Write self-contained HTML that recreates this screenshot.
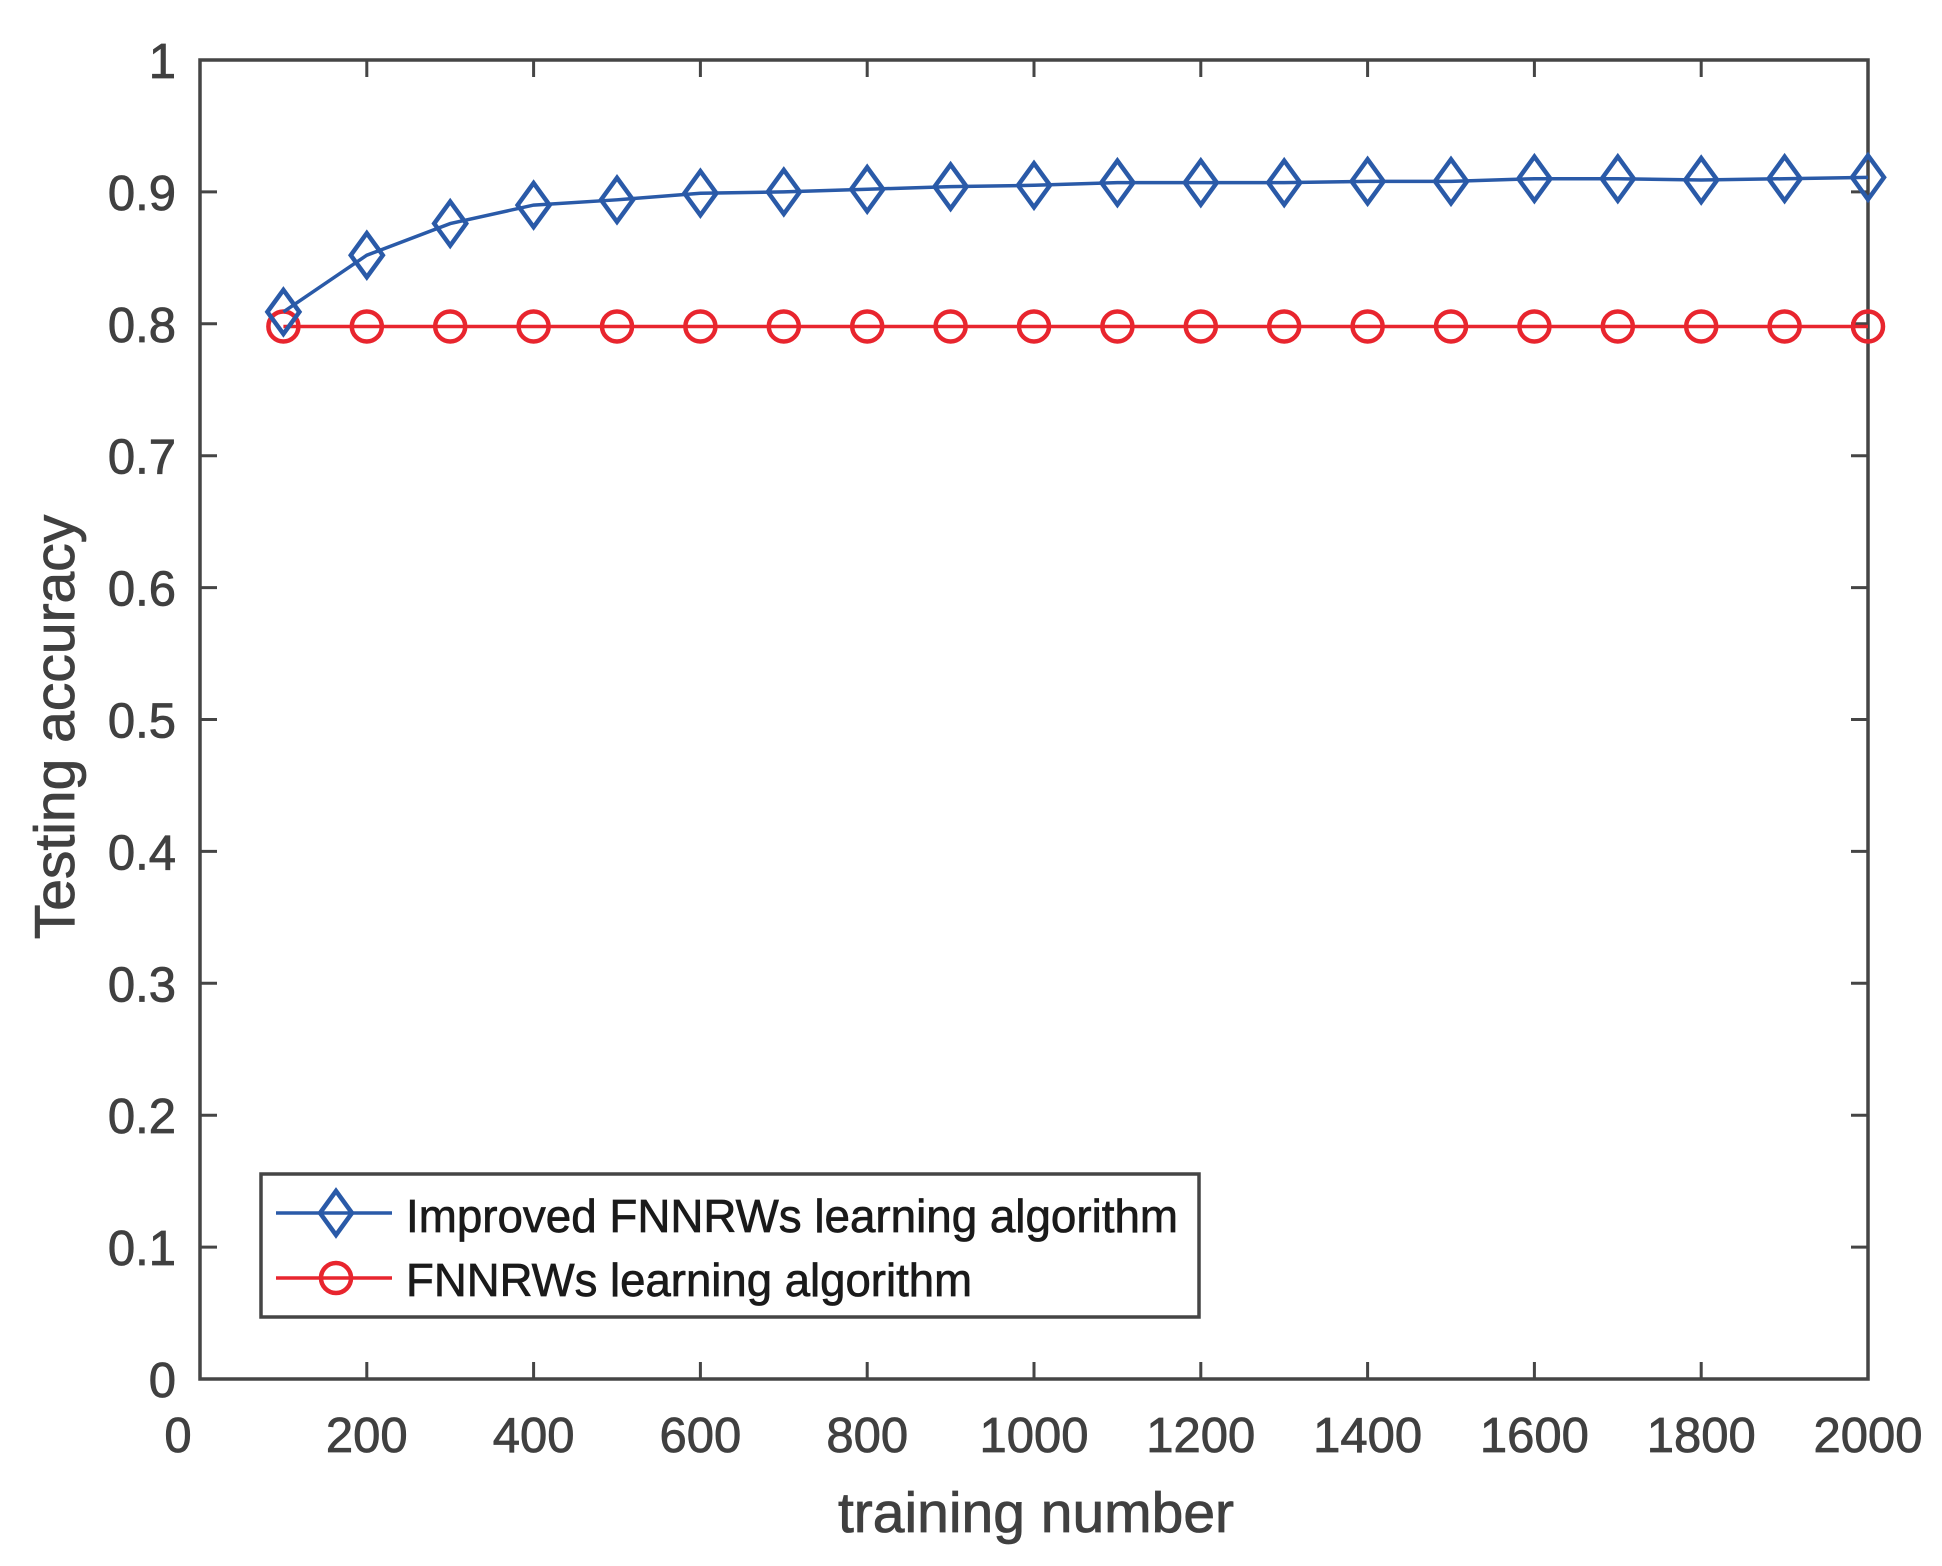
<!DOCTYPE html>
<html><head><meta charset="utf-8"><style>
html,body{margin:0;padding:0;background:#fff}
svg{display:block}
text{font-family:"Liberation Sans",Arial,sans-serif}
</style></head><body>
<svg id="chart" width="1942" height="1566" viewBox="0 0 1942 1566" xmlns="http://www.w3.org/2000/svg">
<rect width="1942" height="1566" fill="#fff"/>
<g id="grid"></g>
<g id="series"></g>
<g id="legend"></g>
</svg>
<script>
const xValues = [100,200,300,400,500,600,700,800,900,1000,1100,1200,1300,1400,1500,1600,1700,1800,1900,2000];
const improvedValues = [0.809,0.852,0.876,0.890,0.894,0.899,0.900,0.902,0.904,0.905,0.907,0.907,0.907,0.908,0.908,0.910,0.910,0.909,0.910,0.911];
const fnnrwValues = [0.798,0.798,0.798,0.798,0.798,0.798,0.798,0.798,0.798,0.798,0.798,0.798,0.798,0.798,0.798,0.798,0.798,0.798,0.798,0.798];
const xTicks = [0,200,400,600,800,1000,1200,1400,1600,1800,2000];
const yTicks = [0,0.1,0.2,0.3,0.4,0.5,0.6,0.7,0.8,0.9,1];
const yTickLabels = ["0","0.1","0.2","0.3","0.4","0.5","0.6","0.7","0.8","0.9","1"];
const seriesNames = ["Improved FNNRWs learning algorithm","FNNRWs learning algorithm"];

const NS="http://www.w3.org/2000/svg";
const L=200,R=1868,T=60,B=1379;
const sx=v=>L+(v-0)/(2000-0)*(R-L);
const sy=v=>B-(v-0)/(1-0)*(B-T);
function mk(tag,attrs,parent){const e=document.createElementNS(NS,tag);for(const k in attrs)e.setAttribute(k,attrs[k]);parent.appendChild(e);return e;}
const axes=document.getElementById('grid');
const AX='#454545';
const TXT={fill:'#404040',stroke:'#404040','stroke-width':0.8};
xTicks.forEach((t,i)=>{
  const x=sx(t);
  const tk=mk('path',{d:`M${x},${B}V${B-17}M${x},${T}V${T+17}`,stroke:AX,'stroke-width':3,fill:'none'},axes);
  
  
  const lb=mk('text',Object.assign({x:t===0?x-22:x,y:1452,'text-anchor':'middle','font-size':49},TXT),axes);
  lb.textContent=String(t);
  
  
});
yTicks.forEach((t,i)=>{
  const y=sy(t);
  const tk=mk('path',{d:`M${L},${y}H${L+17}M${R},${y}H${R-17}`,stroke:AX,'stroke-width':3,fill:'none'},axes);
  
  
  const lb=mk('text',Object.assign({x:176,y:y+18,'text-anchor':'end','font-size':49},TXT),axes);
  lb.textContent=yTickLabels[i];
  
  
});
const frame=mk('rect',{x:L,y:T,width:R-L,height:B-T,fill:'none',stroke:AX,'stroke-width':3.5},axes);


const xt=mk('text',Object.assign({x:1036,y:1532,'text-anchor':'middle','font-size':57},TXT),axes);
xt.textContent='training number';


const yt=mk('text',Object.assign({x:0,y:0,transform:'translate(74,727) rotate(-90)','text-anchor':'middle','font-size':57},TXT),axes);
yt.textContent='Testing accuracy';



const BLUE='#2a5aa8',RED='#e8252e';
const sg=document.getElementById('series');
function diamond(x,y,g){return mk('path',{d:`M${x},${y-22}L${x+16},${y}L${x},${y+22}L${x-16},${y}Z`,fill:'none',stroke:BLUE,'stroke-width':4.5},g);}
function circle(x,y,g){return mk('circle',{cx:x,cy:y,r:15,fill:'none',stroke:RED,'stroke-width':4.5},g);}
function drawSeries(vals,color,name,markerFn){
  const g=mk('g',{},sg);
  
  
  const ln=mk('polyline',{points:vals.map((v,i)=>sx(xValues[i])+','+sy(v)).join(' '),fill:'none',stroke:color,'stroke-width':3.5},g);
  
  
  vals.forEach((v,i)=>{
    const m=markerFn(sx(xValues[i]),sy(v),g);
    
    
  });
}
drawSeries(fnnrwValues,RED,'fnnrw-series',circle);
drawSeries(improvedValues,BLUE,'improved-series',diamond);

const lg=document.getElementById('legend');
const box=mk('rect',{x:261,y:1174,width:938,height:143,fill:'#fff',stroke:AX,'stroke-width':3.5},lg);


[[BLUE,diamond,1213,1232,772],[RED,circle,1278,1296,566]].forEach((r,i)=>{
  const g=mk('g',{},lg);
  
  
  mk('line',{x1:276,x2:392,y1:r[2],y2:r[2],stroke:r[0],'stroke-width':3.5},g);
  r[1](336,r[2],g);
  const t=mk('text',{x:406,y:r[3],'font-size':46,fill:'#1a1a1a',stroke:'#1a1a1a','stroke-width':0.7,textLength:r[4],lengthAdjust:'spacingAndGlyphs'},g);
  t.textContent=seriesNames[i];
});
</script>
</body></html>
